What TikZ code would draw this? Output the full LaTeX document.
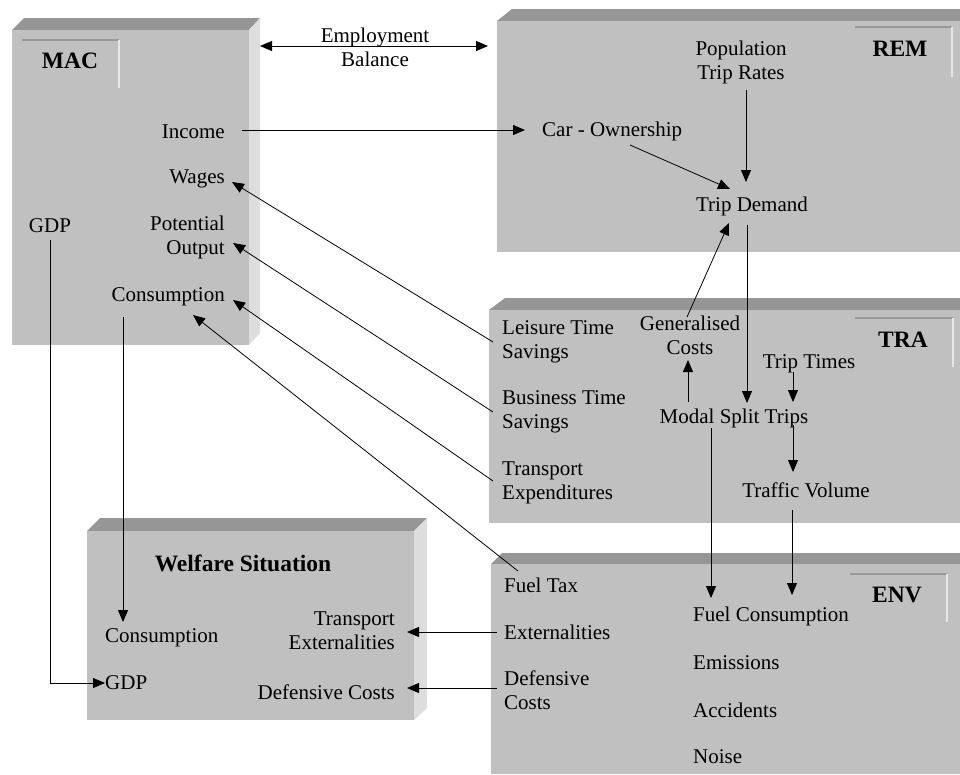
\documentclass[tikz,border=0pt]{standalone}
\usepackage{fontspec}
\setmainfont{Liberation Serif}
\usetikzlibrary{arrows.meta,calc}

\definecolor{boxface}{HTML}{C0C0C0}
\definecolor{boxtop}{HTML}{969696}
\definecolor{boxside}{HTML}{DDDDDD}
\definecolor{tabdark}{HTML}{999999}
\definecolor{tablight}{HTML}{E6E6E6}

\tikzset{
  lbl/.style={inner sep=0pt, font=\fontsize{21}{24}\selectfont},
  blocktitle/.style={inner sep=0pt, font=\fontsize{23.5}{27}\selectfont\bfseries},
  arr/.style={line width=0.8pt, -{Triangle[length=12pt,width=10pt]}},
  dblarr/.style={line width=0.8pt, {Triangle[length=12pt,width=10pt]}-{Triangle[length=12pt,width=10pt]}},
  tabtop/.style={draw=tabdark, line width=1.2pt},
  tabside/.style={draw=tablight, line width=1.2pt},
}

\begin{document}
\begin{tikzpicture}[x=1pt,y=-1pt]
\useasboundingbox (0,0) rectangle (960,774);

% ---- MAC block ----
\fill[boxtop] (12,30) -- (24,18) -- (260,18) -- (249,30) -- cycle;
\fill[boxside] (249,30) -- (260,18) -- (260,333) -- (249,345) -- cycle;
\fill[boxface] (12,30) rectangle (249,345);
\draw[tabtop] (22,40) -- (119,40);
\draw[tabside] (119,40) -- (119,88);

% ---- REM block ----
\fill[boxtop] (497,21) -- (512,9) -- (960,9) -- (960,21) -- cycle;
\fill[boxface] (497,21) rectangle (960,252);
\draw[tabtop] (855,27) -- (952,27);
\draw[tabside] (952,27) -- (952,77);

% ---- TRA block ----
\fill[boxtop] (489,310) -- (505,298) -- (960,298) -- (960,310) -- cycle;
\fill[boxface] (489,310) rectangle (960,523);
\draw[tabtop] (855,318) -- (953,318);
\draw[tabside] (953,318) -- (953,367);

% ---- ENV block ----
\fill[boxtop] (491,564) -- (502,553) -- (960,553) -- (960,564) -- cycle;
\fill[boxface] (491,564) rectangle (960,774);
\draw[tabtop] (850,574) -- (947,574);
\draw[tabside] (947,574) -- (947,622);

% ---- Welfare block ----
\fill[boxtop] (87,531) -- (100,518) -- (427,518) -- (414,531) -- cycle;
\fill[boxside] (414,531) -- (427,518) -- (427,708) -- (414,720) -- cycle;
\fill[boxface] (87,531) rectangle (414,720);

% ---- block titles ----
\node[blocktitle] (mac) at (70,61) {MAC};
\node[blocktitle] (rem) at (900,49) {REM};
\node[blocktitle] (tra) at (903,340) {TRA};
\node[blocktitle] (env) at (897,595) {ENV};
\node[blocktitle] (welf) at (243,563) {Welfare Situation};

% ---- MAC items ----
\node[lbl, anchor=east] (income) at (225,132) {Income};
\node[lbl, anchor=east] (wages) at (225,179) {Wages};
\node[lbl, anchor=east, align=right] (potout) at (225,237) {Potential\\Output};
\node[lbl] (macgdp) at (50,226) {GDP};
\node[lbl, anchor=east] (maccons) at (225,297) {Consumption};

% ---- Welfare items ----
\node[lbl, anchor=west] (wcons) at (105,638) {Consumption};
\node[lbl, anchor=west] (wgdp) at (105,683) {GDP};
\node[lbl, anchor=east, align=right] (wext) at (395,631) {Transport\\Externalities};
\node[lbl, anchor=east] (wdef) at (395,692) {Defensive Costs};

% ---- REM items ----
\node[lbl, align=center] (poptrip) at (741,62) {Population\\Trip Rates};
\node[lbl, anchor=west] (carown) at (542,131) {Car - Ownership};
\node[lbl] (tripdem) at (752,206) {Trip Demand};

% ---- TRA items ----
\node[lbl, anchor=west, align=left] (leisure) at (502,342) {Leisure Time\\Savings};
\node[lbl, anchor=west, align=left] (business) at (502,412) {Business Time\\Savings};
\node[lbl, anchor=west, align=left] (transexp) at (502,483) {Transport\\Expenditures};
\node[lbl, align=center] (gencost) at (690,335) {Generalised\\Costs};
\node[lbl] (triptimes) at (809,364) {Trip Times};
\node[lbl] (modal) at (734,418) {Modal Split Trips};
\node[lbl] (traffic) at (806,490) {Traffic Volume};

% ---- ENV items ----
\node[lbl, anchor=west] (fueltax) at (504,585) {Fuel Tax};
\node[lbl, anchor=west] (externalities) at (504,632) {Externalities};
\node[lbl, anchor=west, align=left] (defcosts) at (504,690) {Defensive\\Costs};
\node[lbl, anchor=west] (fuelcons) at (693,616) {Fuel Consumption};
\node[lbl, anchor=west] (emissions) at (693,663) {Emissions};
\node[lbl, anchor=west] (accidents) at (693,710) {Accidents};
\node[lbl, anchor=west] (noise) at (693,757) {Noise};

% ---- employment balance between MAC and REM ----
\coordinate (macedge) at (260,46);
\coordinate (remedge) at (488,46);
\node[lbl, align=center] (employ) at (375,47) {Employment\\Balance};
\draw[dblarr] (macedge) -- (remedge);

% ---- connectors ----
\draw[arr] ($(income.east)+(17,-2)$) -- ($(carown.west)+(-17,-1)$);
\draw[arr] ($(leisure.west)+(-9,0)$) -- ($(wages.east)+(7,3)$);
\draw[arr] ($(business.west)+(-9,0)$) -- ($(potout.east)+(8,6)$);
\draw[arr] ($(transexp.west)+(-9,-2)$) -- ($(maccons.east)+(8,3)$);
\draw[arr] ($(fueltax.west)+(14,-14)$) -- ($(maccons.east)+(-32,18)$);
\draw[arr] ($(macgdp.center)+(0,14)$) |- (wgdp.west);
\draw[arr] ($(maccons.east)+(-102,20)$) -- ($(wcons.west)+(18,-16)$);
\draw[arr] ($(externalities.west)+(-7,0)$) -- ($(wext.east)+(12,1)$);
\draw[arr] ($(defcosts.west)+(-7,-2)$) -- ($(wdef.east)+(12,-4)$);

\draw[arr] ($(poptrip.center)+(5,28)$) -- ($(tripdem.center)+(-6,-24)$);
\draw[arr] ($(carown.west)+(88,14)$) -- ($(tripdem.center)+(-22,-17)$);
\draw[arr] ($(gencost.center)+(-3,-18)$) -- ($(tripdem.center)+(-23,17)$);
\draw[arr] ($(tripdem.center)+(-5,19)$) -- ($(modal.center)+(13,-15)$);
\draw[arr] ($(modal.center)+(-46,-16)$) -- ($(gencost.center)+(-2,25)$);
\draw[arr] ($(triptimes.center)+(-16,8)$) -- ($(modal.center)+(59,-16)$);
\draw[arr] ($(modal.center)+(59,7)$) -- ($(traffic.center)+(-13,-18)$);
\draw[arr] ($(traffic.center)+(-14,20)$) -- ($(fuelcons.west)+(99,-21)$);
\draw[arr] ($(modal.center)+(-23,10)$) -- ($(fuelcons.west)+(18,-18)$);
\end{tikzpicture}
\end{document}
